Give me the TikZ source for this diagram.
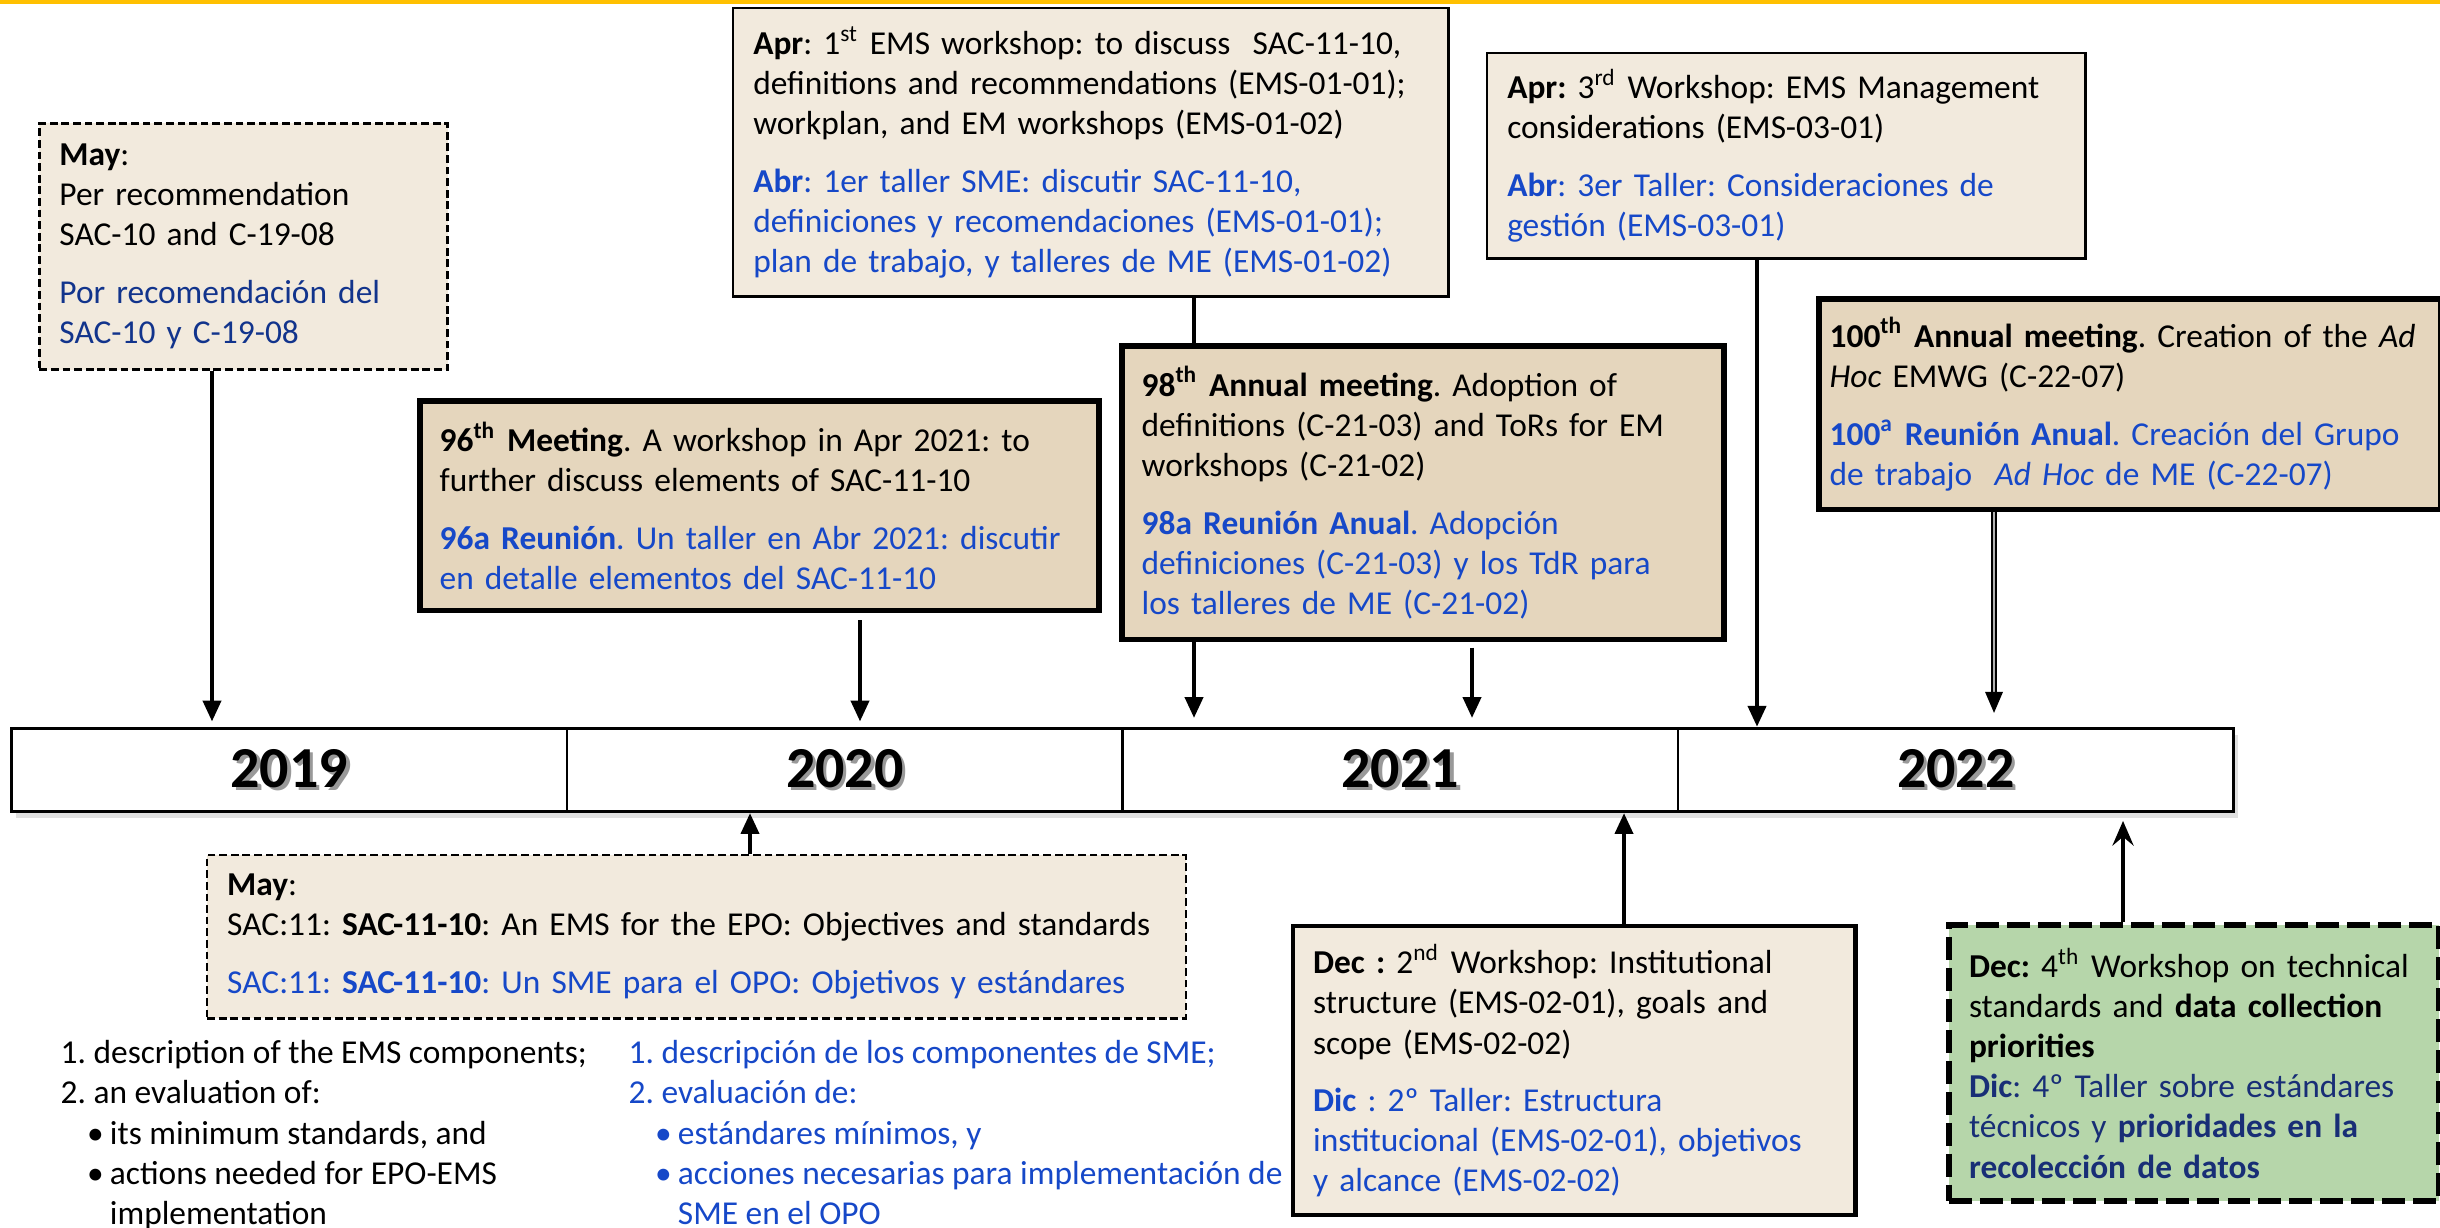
\documentclass[tikz,border=0pt]{standalone}
\usepackage{fontspec}
\setmainfont{Carlito}
\usetikzlibrary{arrows.meta}
\usetikzlibrary{positioning}
\usetikzlibrary{shadows}
\usetikzlibrary{calc}

\definecolor{topline}{RGB}{255,192,0}
\definecolor{paper}{RGB}{242,234,221}
\definecolor{tan}{RGB}{229,214,189}
\definecolor{mint}{RGB}{182,214,170}
\definecolor{navy}{RGB}{18,52,140}
\definecolor{esblue}{RGB}{22,72,200}
\definecolor{deepnavy}{RGB}{24,46,118}

\frenchspacing
\hyphenpenalty=10000
\exhyphenpenalty=10000

\newcommand{\es}[1]{{\color{esblue}#1}}
\newcommand{\shadowyear}[1]{\makebox[0pt][l]{\hspace{1pt}\raisebox{-1pt}{\color{black!40}#1}}#1}

\tikzset{
    box/.style={anchor=north west, align=left, inner xsep=0.2cm, inner ysep=4pt,
        font=\fontsize{9.5}{11.4}\selectfont},
    dashbox/.style={box, draw, fill=paper, line width=0.8pt, dash pattern=on 2.2pt off 1.1pt},
    solidbox/.style={box, draw, fill=paper, line width=0.7pt},
    meetbox/.style={box, draw, fill=tan, line width=1.5pt},
    greenbox/.style={box, draw, fill=mint, line width=1.7pt, dash pattern=on 6.5pt off 2.3pt},
    listtext/.style={anchor=north west, align=left, inner sep=0pt,
        font=\fontsize{9.5}{11.4}\selectfont},
    yearcell/.style={anchor=north west, draw, fill=white, line width=0.8pt,
        minimum width=5.555cm, minimum height=0.83cm, inner sep=0pt,
        font=\fontsize{16.5}{19}\selectfont\bfseries,
        drop shadow={shadow xshift=1.2pt, shadow yshift=-1.8pt, opacity=0.12, fill=black}},
    arr/.style={line width=1.4pt, -{Triangle[width=5pt,length=6pt]}},
}

\begin{document}
\begin{tikzpicture}[x=0.01cm, y=-0.01cm]
    \useasboundingbox (0,0) rectangle (2440,1228);
    \fill[topline] (0,0) rectangle (2440,4);

    \foreach \yy [count=\i] in {2019,2020,2021,2022}
        \node[yearcell] (tl\i) at ({10+(\i-1)*555.5},727) {\shadowyear{\yy}};

    \node[dashbox, minimum width=4.08cm, minimum height=2.46cm, text width=3.68cm] (may19) at (38,122)
        {\textbf{May}:\\Per recommendation\\SAC-10 and C-19-08\\[5pt]
        {\color{navy}Por recomendación del\\SAC-10 y C-19-08}};

    \node[solidbox, minimum width=7.15cm, minimum height=2.88cm, text width=6.75cm] (apr1) at (732,7)
        {\textbf{Apr}: 1\textsuperscript{st} EMS workshop: to discuss\ \ SAC-11-10,\\
        definitions and recommendations (EMS-01-01);\\
        workplan, and EM workshops (EMS-01-02)\\[5pt]
        \es{\textbf{Abr}: 1er taller SME: discutir SAC-11-10,\\
        definiciones y recomendaciones (EMS-01-01);\\
        plan de trabajo, y talleres de ME (EMS-01-02)}};

    \node[solidbox, minimum width=5.98cm, minimum height=2.05cm, text width=5.58cm] (apr3) at (1486,52)
        {\textbf{Apr:} 3\textsuperscript{rd} Workshop: EMS Management\\
        considerations (EMS-03-01)\\[5pt]
        \es{\textbf{Abr}: 3er Taller: Consideraciones de\\gestión (EMS-03-01)}};

    \node[meetbox, minimum width=6.79cm, minimum height=2.10cm, text width=6.39cm] (m96) at (417,398)
        {\textbf{96\textsuperscript{th} Meeting}. A workshop in Apr 2021: to\\
        further discuss elements of SAC-11-10\\[5pt]
        \es{\textbf{96a Reunión}. Un taller en Abr 2021: discutir\\
        en detalle elementos del SAC-11-10}};

    \node[meetbox, minimum width=6.02cm, minimum height=2.94cm, text width=5.62cm] (m98) at (1119,343)
        {\textbf{98\textsuperscript{th} Annual meeting}. Adoption of\\
        definitions (C-21-03) and ToRs for EM\\
        workshops (C-21-02)\\[5pt]
        \es{\textbf{98a Reunión Anual}. Adopción\\
        definiciones (C-21-03) y los TdR para\\
        los talleres de ME (C-21-02)}};

    \node[meetbox, inner xsep=0.11cm, minimum width=6.22cm, minimum height=2.11cm, text width=6.0cm] (m100) at (1816,296)
        {\textbf{100\textsuperscript{th} Annual meeting}. Creation of the \textit{Ad}\\
        \textit{Hoc} EMWG (C-22-07)\\[5pt]
        \es{\textbf{100\textsuperscript{a} Reunión Anual}. Creación del Grupo\\
        de trabajo\ \ \textit{Ad Hoc} de ME (C-22-07)}};

    \foreach \m in {m96,m98,m100}
        \draw[line width=0.4pt] ([shift={(5,5)}]\m.north west) rectangle ([shift={(-5,-5)}]\m.south east);

    \node[dashbox, line width=0.7pt, minimum width=9.78cm, minimum height=1.63cm, text width=9.38cm] (may20) at (206,854)
        {\textbf{May}:\\
        SAC:11: \textbf{SAC-11-10}: An EMS for the EPO: Objectives and standards\\[5pt]
        \es{SAC:11: \textbf{SAC-11-10}: Un SME para el OPO: Objetivos y estándares}};

    \node[listtext] (listen) at (60,1040)
        {1. description of the EMS components;\\
        2. an evaluation of:\\
        \hspace*{7.5pt}\makebox[6.5pt][l]{\textbullet}its minimum standards, and\\
        \hspace*{7.5pt}\makebox[6.5pt][l]{\textbullet}actions needed for EPO-EMS\\
        \hspace*{14pt}implementation};

    \node[listtext, text=esblue] (listes) at (628,1040)
        {1. descripción de los componentes de SME;\\
        2. evaluación de:\\
        \hspace*{7.5pt}\makebox[6.5pt][l]{\textbullet}estándares mínimos, y\\
        \hspace*{7.5pt}\makebox[6.5pt][l]{\textbullet}acciones necesarias para implementación de\\
        \hspace*{14pt}SME en el OPO};

    \node[solidbox, line width=1.2pt, minimum width=5.62cm, minimum height=2.89cm, text width=5.22cm] (dec2) at (1291,924)
        {\textbf{Dec :} 2\textsuperscript{nd} Workshop: Institutional\\
        structure (EMS-02-01), goals and\\
        scope (EMS-02-02)\\[5pt]
        \es{\textbf{Dic} : 2º Taller: Estructura\\
        institucional (EMS-02-01), objetivos\\
        y alcance (EMS-02-02)}};

    \node[greenbox, minimum width=4.88cm, minimum height=2.76cm, text width=4.50cm] (dec4) at (1946,922)
        {\textbf{Dec:} 4\textsuperscript{th} Workshop on technical\\
        standards and \textbf{data collection}\\
        \textbf{priorities}\\
        {\color{deepnavy}\textbf{Dic}: 4º Taller sobre estándares\\
        técnicos y \textbf{prioridades en la}\\
        \textbf{recolección de datos}}};

    \coordinate (c19) at (212,0);
    \coordinate (c96) at (860,0);
    \coordinate (c98a) at (1194,0);
    \coordinate (c98b) at (1472,0);
    \coordinate (c3) at (1757,0);
    \coordinate (c100) at (1994,0);
    \coordinate (c20) at (750,0);
    \coordinate (c2) at (1624,0);
    \coordinate (c4) at (2123,0);

    \draw[arr, shorten >=1.5pt] (may19.south -| c19) -- (tl1.north -| c19);
    \draw[arr, shorten >=1.5pt, shorten <=2pt] (m96.south -| c96) -- (tl2.north -| c96);
    \draw[line width=1.4pt] (apr1.south -| c98a) -- (m98.north -| c98a);
    \draw[arr, shorten >=2.5pt] (m98.south -| c98a) -- (tl3.north -| c98a);
    \draw[arr, shorten >=2.5pt, shorten <=1.5pt] (m98.south -| c98b) -- (tl3.north -| c98b);
    \draw[arr] (apr3.south -| c3) -- (tl4.north -| c3);
    \draw[line width=0.5pt, double=black!30, double distance=0.6pt, -{Triangle[width=5pt,length=6pt]}, shorten >=4pt]
        (m100.south -| c100) -- (tl4.north -| c100);
    \draw[arr] (may20.north -| c20) -- (tl2.south -| c20);
    \draw[arr] (dec2.north -| c2) -- (tl3.south -| c2);
    \draw[line width=1.4pt, -{Stealth[width=6pt,length=7pt,inset=2.5pt]}, shorten >=2.3pt]
        (dec4.north -| c4) -- (tl4.south -| c4);
\end{tikzpicture}
\end{document}
